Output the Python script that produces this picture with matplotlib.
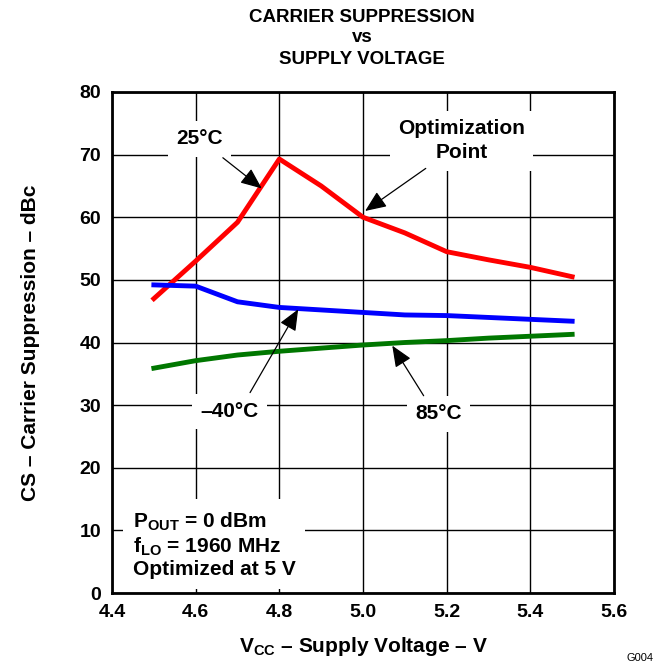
import numpy as np
import matplotlib.pyplot as plt

plt.rcParams['font.family'] = ['Liberation Sans', 'DejaVu Sans']
plt.rcParams['font.weight'] = 'bold'
plt.rcParams['axes.labelweight'] = 'bold'
plt.rcParams['mathtext.fontset'] = 'custom'
plt.rcParams['mathtext.bf'] = 'Liberation Sans:bold'
plt.rcParams['mathtext.rm'] = 'Liberation Sans:bold'

# supply voltage (V)
vcc = [4.5, 4.6, 4.7, 4.8, 4.9, 5.0, 5.1, 5.2, 5.3, 5.4, 5.5]
# carrier suppression (dBc)
cs_25 = [47.0, 53.0, 59.2, 69.3, 65.0, 60.0, 57.5, 54.5, 53.2, 52.0, 50.5]
cs_m40 = [49.2, 49.0, 46.5, 45.6, 45.2, 44.8, 44.4, 44.3, 44.0, 43.7, 43.4]
cs_85 = [35.9, 37.1, 38.0, 38.6, 39.1, 39.6, 40.0, 40.3, 40.7, 41.0, 41.3]

xticks = [4.4, 4.6, 4.8, 5.0, 5.2, 5.4, 5.6]
yticks = [0, 10, 20, 30, 40, 50, 60, 70, 80]

fig = plt.figure(figsize=(6.64, 6.62), dpi=100)
ax = fig.add_axes([112/664, 1-593/662, 502/664, 501/662])

ax.plot(vcc, cs_25, color='#ff0000', lw=3.5, zorder=3)
ax.plot(vcc, cs_m40, color='#0000ff', lw=3.5, zorder=3)
ax.plot(vcc, cs_85, color='#007700', lw=3.5, zorder=3)

ax.set_xlim(4.4, 5.6)
ax.set_ylim(0, 80)
ax.set_xticks(xticks)
ax.set_xticklabels([f'{v:.1f}' for v in xticks])
ax.set_yticks(yticks)
ax.tick_params(length=0, labelsize=14, pad=8)
ax.grid(True, color='black', lw=1)
ax.set_axisbelow(True)
for s in ax.spines.values():
    s.set_linewidth(2)

ax.set_xlabel('V$_{\\mathbf{CC}}$ – Supply Voltage – V', fontsize=15, labelpad=10)
ax.set_ylabel('CS – Carrier Suppression – dBc', fontsize=15, labelpad=28)

# title, three lines
fig.text(362/664, 1-17/662, 'CARRIER SUPPRESSION', ha='center', va='center', fontsize=13.5)
fig.text(362/664, 1-38/662, 'vs', ha='center', va='center', fontsize=13.5)
fig.text(362/664, 1-59/662, 'SUPPLY VOLTAGE', ha='center', va='center', fontsize=13.5)

box = dict(facecolor='white', edgecolor='none', pad=6)
arw = dict(arrowstyle='-|>,head_length=1.3,head_width=0.55', color='black', lw=0.9,
           shrinkA=0, shrinkB=0)

ax.text(4.61, 72.5, '25°C', ha='center', va='center', fontsize=15, bbox=box, zorder=4)
ax.annotate('', xy=(4.758, 64.6), xytext=(4.665, 69.5), arrowprops=arw, zorder=4)

ax.text(5.235, 72.2, 'Optimization\nPoint', ha='center', va='center', fontsize=15,
        linespacing=1.35, bbox=box, zorder=4)
ax.annotate('', xy=(5.005, 61.0), xytext=(5.15, 67.8), arrowprops=arw, zorder=4)

ax.text(4.68, 29.0, '–40°C', ha='center', va='center', fontsize=15, bbox=box, zorder=4)
ax.annotate('', xy=(4.845, 45.3), xytext=(4.73, 32.0), arrowprops=arw, zorder=4)

ax.text(5.18, 28.6, '85°C', ha='center', va='center', fontsize=15, bbox=box, zorder=4)
ax.annotate('', xy=(5.07, 39.5), xytext=(5.145, 31.5), arrowprops=arw, zorder=4)

ax.text(4.45, 7.7, 'P$_{\\mathbf{OUT}}$ = 0 dBm\nf$_{\\mathbf{LO}}$ = 1960 MHz\nOptimized at 5 V',
        ha='left', va='center', fontsize=15, linespacing=1.13,
        bbox=dict(facecolor='white', edgecolor='none', pad=7), zorder=4)

fig.text(640/664, 1-658/662, 'G004', ha='center', va='center', fontsize=8, weight='normal')

fig.savefig('out.png', dpi=100)
